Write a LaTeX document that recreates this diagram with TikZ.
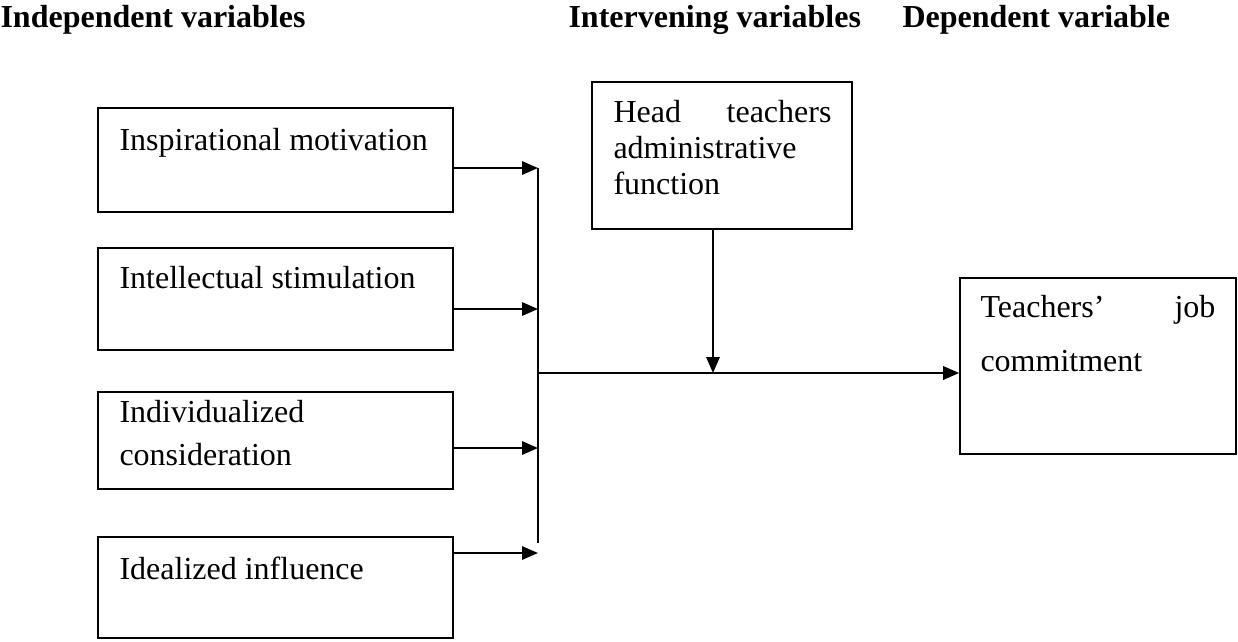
\documentclass[tikz,border=0pt]{standalone}
\usepackage{fontspec}
\setmainfont{Liberation Serif}
\usetikzlibrary{arrows.meta,fit}
\begin{document}
\begin{tikzpicture}[x=0.375pt,y=-0.375pt,
  box/.style={draw, line width=0.6pt, inner sep=0pt},
  lbl/.style={anchor=base west, inner sep=0pt, font=\fontsize{12}{13.8}\selectfont},
  lblr/.style={anchor=base east, inner sep=0pt, font=\fontsize{12}{13.8}\selectfont},
  hdr/.style={anchor=base west, inner sep=0pt, font=\fontsize{12}{13.8}\selectfont\bfseries},
  conn/.style={line width=0.8pt, -{Triangle[length=6pt,width=5pt]}},
  ln/.style={line width=0.8pt}]
\useasboundingbox (0,0) rectangle (1238,641);

% headers
\node[hdr] (h1) at (0,27) {Independent variables};
\node[hdr] (h2) at (568,27) {Intervening variables};
\node[hdr] (h3) at (902,27) {Dependent variable};

% left boxes
\node[box, fit={(98,108) (453,212)}] (b1) {};
\node[box, fit={(98,248) (453,350)}] (b2) {};
\node[box, fit={(98,392) (453,489)}] (b3) {};
\node[box, fit={(98,537) (453,638)}] (b4) {};
\node[lbl] (t1) at (119,150) {Inspirational motivation};
\node[lbl] (t2) at (119,288) {Intellectual stimulation};
\node[lbl] (t3a) at (119,422) {Individualized};
\node[lbl] (t3b) at (119,465) {consideration};
\node[lbl] (t4) at (119,579) {Idealized influence};

% intervening box
\node[box, fit={(592,82) (852,229)}] (hb) {};
\node[lbl] (ha) at (613,122) {Head};
\node[lblr] (hb2) at (832,122) {teachers};
\node[lbl] (hc) at (613,158) {administrative};
\node[lbl] (hd) at (613,194) {function};

% dependent box
\node[box, fit={(960,278) (1236,454)}] (tb) {};
\node[lbl] (ta) at (980,317) {Teachers’};
\node[lblr] (tbj) at (1216,317) {job};
\node[lbl] (tc) at (980,371) {commitment};

% junction coordinates
\coordinate (j1) at (538,168);
\coordinate (j2) at (538,309);
\coordinate (j3) at (538,448);
\coordinate (j4) at (538,553);
\coordinate (vbot) at (538,543);
\coordinate (m) at (538,373);
\coordinate (d) at (713,373);

\draw[ln] (j1) -- (vbot);
\draw[conn] (b1.east |- j1) -- (j1);
\draw[conn] (b2.east |- j2) -- (j2);
\draw[conn] (b3.east |- j3) -- (j3);
\draw[conn] (b4.east |- j4) -- (j4);
\draw[conn] (m) -- (tb.west |- m);
\draw[conn] (hb.south -| d) -- (d);
\end{tikzpicture}
\end{document}
